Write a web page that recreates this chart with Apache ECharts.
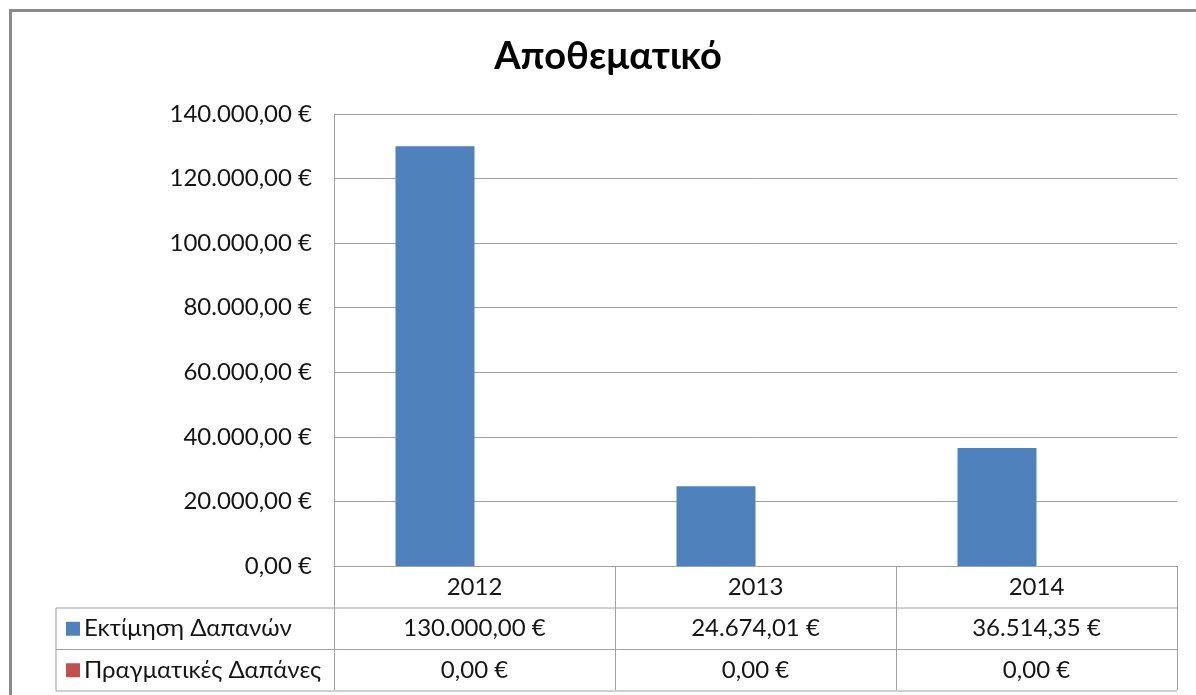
<!DOCTYPE html>
<html>
<head>
<meta charset="utf-8">
<script src="https://cdn.jsdelivr.net/npm/echarts@6/dist/echarts.min.js"></script>
<style>
html, body { margin: 0; padding: 0; background: #fff; }
#main { width: 1196px; height: 695px; }
</style>
</head>
<body>
<div id="main"></div>
<script type="text/javascript">
// data
var years = ['2012', '2013', '2014'];
var estimate = [130000, 24674.01, 36514.35];
var actual = [0, 0, 0];
var seriesNames = ['Εκτίμηση Δαπανών', 'Πραγματικές Δαπάνες'];
var seriesColors = ['#4F81BD', '#C0504D'];
var yMin = 0, yMax = 140000, yStep = 20000;

var FONT = 'Lato, "Noto Sans", sans-serif';
var TEXT = '#151515';
var LINE = '#a0a0a0';
var FS = 24;

function euro(v) {
    var parts = v.toFixed(2).split('.');
    var intPart = parts[0].replace(/\B(?=(\d{3})+(?!\d))/g, '.');
    return intPart + ',' + parts[1] + ' €';
}

(function(){
    var myChart = echarts.init(document.getElementById('main'));

    var option = {
        animation: false,
        textStyle: { fontFamily: FONT },
        grid: { left: 334, right: 19, top: 114, bottom: 129 },
        xAxis: {
            type: 'category',
            data: years,
            axisLine: { lineStyle: { color: LINE, width: 1 } },
            axisTick: { show: true, interval: 0, length: 124, lineStyle: { color: LINE } },
            axisLabel: { fontSize: FS, color: TEXT, margin: 9, fontFamily: FONT }
        },
        yAxis: {
            type: 'value',
            min: yMin, max: yMax, interval: yStep,
            axisLine: { show: true, lineStyle: { color: LINE } },
            axisTick: { show: false },
            splitLine: { lineStyle: { color: LINE } },
            axisLabel: { fontSize: FS, color: TEXT, margin: 22, fontFamily: FONT, formatter: euro }
        },
        series: [
            { name: seriesNames[0], type: 'bar', data: estimate, barWidth: 79, barGap: '0%',
              itemStyle: { color: seriesColors[0] } },
            { name: seriesNames[1], type: 'bar', data: actual, barWidth: 79, barGap: '0%',
              itemStyle: { color: seriesColors[1] } }
        ]
    };
    myChart.setOption(option);

    // data table under the axis, positioned from the axis scale
    var c0 = myChart.convertToPixel({ xAxisIndex: 0 }, 0);
    var c1 = myChart.convertToPixel({ xAxisIndex: 0 }, 1);
    var band = c1 - c0;
    var left = c0 - band / 2;
    var right = left + band * years.length;
    var y0 = myChart.convertToPixel({ yAxisIndex: 0 }, 0);
    var rowH = 41.5;
    var headH = 42;
    var tableLeft = 56;
    var r1 = y0 + headH, r2 = r1 + rowH, r3 = r2 + rowH;

    var g = [];
    // outer chart border
    g.push({ type: 'rect', shape: { x: 10.5, y: 10.5, width: 1300, height: 1000 },
             style: { fill: 'none', stroke: '#8a8a8a', lineWidth: 3 } });
    g.push({ type: 'text', x: 608, y: 57, style: { text: 'Αποθεματικό', font: 'bold 38px ' + FONT,
             fill: '#000', textAlign: 'center', textVerticalAlign: 'middle' } });

    [r1, r2, r3].forEach(function (y) {
        g.push({ type: 'line', shape: { x1: tableLeft, y1: y, x2: right, y2: y },
                 style: { stroke: LINE, lineWidth: 1 } });
    });
    g.push({ type: 'line', shape: { x1: tableLeft, y1: r1, x2: tableLeft, y2: r3 },
             style: { stroke: LINE, lineWidth: 1 } });

    var rows = [estimate, actual];
    var tops = [r1, r2];
    rows.forEach(function (vals, ri) {
        var cy = tops[ri] + rowH / 2;
        g.push({ type: 'rect', shape: { x: 66, y: cy - 7, width: 14, height: 14 },
                 style: { fill: seriesColors[ri] } });
        g.push({ type: 'text', x: 84, y: cy, style: { text: seriesNames[ri], font: FS + 'px ' + FONT,
                 fill: TEXT, textAlign: 'left', textVerticalAlign: 'middle' } });
        vals.forEach(function (v, i) {
            var cx = myChart.convertToPixel({ xAxisIndex: 0 }, i);
            g.push({ type: 'text', x: cx, y: cy, style: { text: euro(v), font: FS + 'px ' + FONT,
                     fill: TEXT, textAlign: 'center', textVerticalAlign: 'middle' } });
        });
    });

    myChart.setOption({ graphic: g });
})();
</script>
</body>
</html>
